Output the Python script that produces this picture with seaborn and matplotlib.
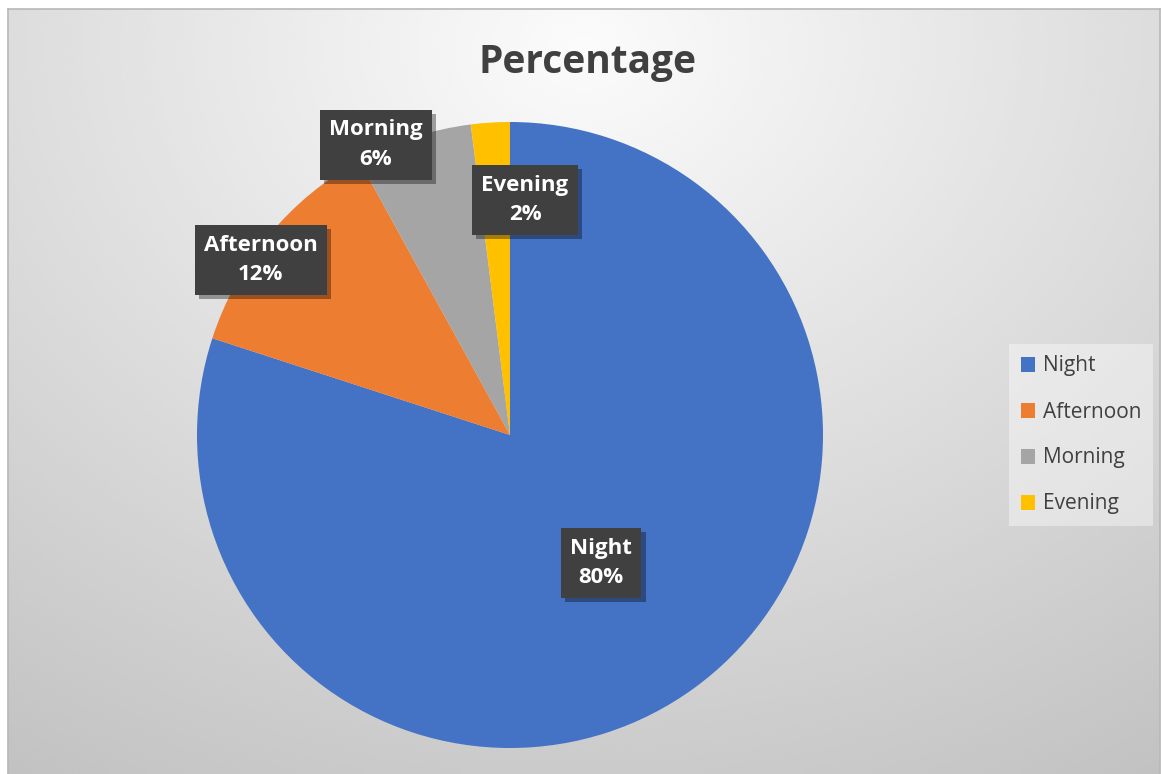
import numpy as np
import matplotlib
matplotlib.use("Agg")
import matplotlib.pyplot as plt
import matplotlib.patheffects as pe
from matplotlib.patches import Patch
import seaborn as sns

categories = ["Night", "Afternoon", "Morning", "Evening"]
values = [80, 12, 6, 2]
colors = ["#4472C4", "#ED7D31", "#A5A5A5", "#FFC000"]
title = "Percentage"

# label anchor positions in pie radius units (style)
label_pos = {"Night": (0.291, -0.409), "Afternoon": (-0.796, 0.559),
             "Morning": (-0.428, 0.927), "Evening": (0.048, 0.751)}

sns.set_theme(style="white")
plt.rcParams['font.family'] = ['Open Sans', 'DejaVu Sans']

W, H = 1162, 774
fig = plt.figure(figsize=(W / 100, H / 100), dpi=100)
fig.patch.set_facecolor("white")

# background gradient panel
x0, y0, x1, y1 = 8, 9, 1160, 774
bg = fig.add_axes([x0 / W, 0, (x1 - x0) / W, (y1 - y0) / H])
yy, xx = np.mgrid[0:300, 0:450]
cx, cy = 0.5, 0.05
d = np.sqrt(((xx / 449) - cx) ** 2 * 0.8 + ((yy / 299) - cy) ** 2 * 0.55)
g = 0.985 - 0.27 * np.clip(d, 0, 1.2)
bg.imshow(g, cmap="gray", vmin=0, vmax=1, aspect="auto", extent=[0, 1, 1, 0],
          interpolation="bicubic")
bg.set_xlim(0, 1); bg.set_ylim(1, 0)
bg.set_xticks([]); bg.set_yticks([])
for s in bg.spines.values():
    s.set_color("#b8b8b8"); s.set_linewidth(1.2)
bg.spines["bottom"].set_visible(False)

# pie axes
cxp, cyp, R = 510, 435, 313
ax = fig.add_axes([(cxp - R) / W, (H - cyp - R) / H, 2 * R / W, 2 * R / H])
ax.set_facecolor("none")
wedges, _ = ax.pie(values, colors=colors, startangle=90, counterclock=False,
                   radius=1, wedgeprops=dict(linewidth=0))
ax.set_xlim(-1, 1); ax.set_ylim(-1, 1)
ax.set_aspect("equal")
ax.axis("off")

for cat, v in zip(categories, values):
    px, py = label_pos[cat]
    t = ax.text(px, py, f"{cat}\n{v}%", ha="center", va="center", color="white",
                fontsize=16, fontweight="bold", linespacing=1.55,
                bbox=dict(boxstyle="square,pad=0.42", facecolor="#404040",
                          edgecolor="none"))
    t.get_bbox_patch().set_path_effects([
        pe.SimplePatchShadow(offset=(3, -3), shadow_rgbFace="black", alpha=0.35),
        pe.Normal()])

fig.text(588 / W, 1 - 62 / H, title, ha="center", va="center", fontsize=28,
         fontweight="bold", color="#404040")

handles = [Patch(facecolor=c, edgecolor="none") for c in colors]
leg = fig.legend(handles, categories, loc="center", bbox_to_anchor=(1081 / W, 1 - 435 / H),
                 frameon=True, fontsize=15, labelcolor="#404040", handlelength=0.7,
                 handleheight=0.7, handletextpad=0.35, labelspacing=1.2,
                 borderpad=0.55, borderaxespad=0, fancybox=False)
leg.get_frame().set_facecolor("white")
leg.get_frame().set_alpha(0.4)
leg.get_frame().set_edgecolor("none")

fig.savefig("out.png", dpi=100)
